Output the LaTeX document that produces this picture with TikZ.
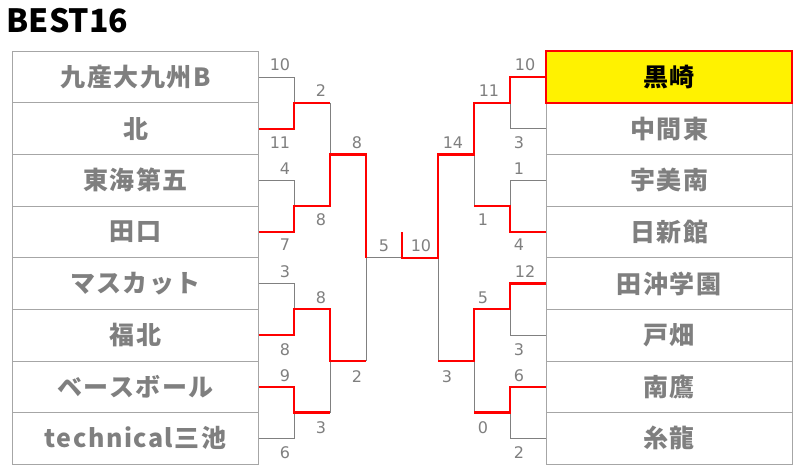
\documentclass[tikz,border=0pt]{standalone}
\usepackage{fontspec}
\newfontfamily\jp{Noto Sans CJK JP}
\newfontfamily\jpsp{Noto Sans CJK JP}[LetterSpace=6]
\newfontfamily\numf{DejaVu Sans}
\definecolor{tgray}{HTML}{7F7F7F}
\definecolor{bgray}{HTML}{A6A6A6}
\definecolor{lgray}{HTML}{808080}
\begin{document}
\begin{tikzpicture}[x=1pt,y=-1pt,
 team/.style={draw=bgray, line width=0.8pt, minimum width=246pt, minimum height=51.6pt, inner sep=0pt, outer sep=0pt, font=\jpsp\bfseries\fontsize{25}{28}\selectfont, text=tgray},
 win/.style={team, draw=red, line width=2pt, fill=yellow, text=black},
 score/.style={font=\numf\fontsize{16}{16}\selectfont, text=tgray, inner sep=0pt},
 gl/.style={draw=lgray, line width=0.9pt},
 rl/.style={draw=red, line width=2.2pt}]
\useasboundingbox (0,0) rectangle (807,476);
\node[anchor=west, inner sep=0pt, font=\jp\bfseries\fontsize{32}{32}\selectfont] (title) at (6.5,21) {BEST16};
% left teams
\node[team] (L1) at (135.5,77.1) {九産大九州B};
\node[team] (L2) at (135.5,128.7) {北};
\node[team] (L3) at (135.5,180.3) {東海第五};
\node[team] (L4) at (135.5,231.9) {田口};
\node[team] (L5) at (135.5,283.5) {マスカット};
\node[team] (L6) at (135.5,335.1) {福北};
\node[team] (L7) at (135.5,386.7) {ベースボール};
\node[team] (L8) at (135.5,438.3) {technical三池};
% right teams
\node[team] (R2) at (669,128.7) {中間東};
\node[team] (R3) at (669,180.3) {宇美南};
\node[team] (R4) at (669,231.9) {日新館};
\node[team] (R5) at (669,283.5) {田沖学園};
\node[team] (R6) at (669,335.1) {戸畑};
\node[team] (R7) at (669,386.7) {南鷹};
\node[team] (R8) at (669,438.3) {糸龍};
\node[win] (R1) at (669,77.1) {黒崎};
% bracket points
\coordinate (M1) at (294,102.9); \coordinate (M2) at (294,206.1);
\coordinate (M3) at (294,309.3); \coordinate (M4) at (294,412.5);
\coordinate (S1) at (330,154.5); \coordinate (S2) at (330,360.9);
\coordinate (F1) at (366,257.7);
\coordinate (C) at (402,257.7); \coordinate (Ct) at (402,232.3);
\coordinate (N1) at (510,102.9); \coordinate (N2) at (510,206.1);
\coordinate (N3) at (510,309.3); \coordinate (N4) at (510,412.5);
\coordinate (T1) at (474,154.5); \coordinate (T2) at (474,360.9);
\coordinate (G1) at (438,257.7);
% gray lines left
\draw[gl] (L1.east) -| (M1);
\draw[gl] (L3.east) -| (M2);
\draw[gl] (L5.east) -| (M3);
\draw[gl] (L8.east) -| (M4);
\draw[gl] (M1 -| S1) -- (S1);
\draw[gl] (M4 -| S2) -- (S2);
\draw[gl] (S2 -| F1) -- (F1);
\draw[gl] (F1) -- (C);
% gray lines right
\draw[gl] (R2.west) -| (N1);
\draw[gl] (R3.west) -| (N2);
\draw[gl] (R6.west) -| (N3);
\draw[gl] (R8.west) -| (N4);
\draw[gl] (N2 -| T1) -- (T1);
\draw[gl] (N4 -| T2) -- (T2);
\draw[gl] (T2 -| G1) -- (G1);
% red lines left
\draw[rl] (L2.east) -| (M1) -- (M1 -| S1);
\draw[rl] (L4.east) -| (M2) -| (S1) -| (F1);
\draw[rl] (L6.east) -| (M3) -| (S2) -- (S2 -| F1);
\draw[rl] (L7.east) -| (M4) -- (M4 -| S2);
% red lines right
\draw[rl] (R1.west) -| (N1) -| (T1) -| (G1) -- (C) -- (Ct);
\draw[rl] (R4.west) -| (N2) -- (N2 -| T1);
\draw[rl] (R5.west) -| (N3) -| (T2) -- (T2 -| G1);
\draw[rl] (R7.west) -| (N4) -- (N4 -| T2);
% scores left
\node[score] (a1) at (280,65) {10};
\node[score] (a2) at (280,143) {11};
\node[score] (a3) at (285,169) {4};
\node[score] (a4) at (285,245) {7};
\node[score] (a5) at (285,272) {3};
\node[score] (a6) at (285,350) {8};
\node[score] (a7) at (285,376) {9};
\node[score] (a8) at (285,453) {6};
\node[score] (b1) at (321,90.5) {2};
\node[score] (b2) at (321,220) {8};
\node[score] (b3) at (321,298) {8};
\node[score] (b4) at (321,427.5) {3};
\node[score] (c1) at (357,143) {8};
\node[score] (c2) at (357,376.5) {2};
\node[score] (d1) at (384,245.5) {5};
% scores right
\node[score] (e1) at (525,65) {10};
\node[score] (e2) at (519,143) {3};
\node[score] (e3) at (519,169) {1};
\node[score] (e4) at (519,245) {4};
\node[score] (e5) at (525,272) {12};
\node[score] (e6) at (519,350) {3};
\node[score] (e7) at (519,376) {6};
\node[score] (e8) at (519,453) {2};
\node[score] (f1) at (489,90.5) {11};
\node[score] (f2) at (483,220) {1};
\node[score] (f3) at (483,298) {5};
\node[score] (f4) at (483,427.5) {0};
\node[score] (g1) at (453,143) {14};
\node[score] (g2) at (447,376.5) {3};
\node[score] (h1) at (421,245.5) {10};
\end{tikzpicture}
\end{document}
